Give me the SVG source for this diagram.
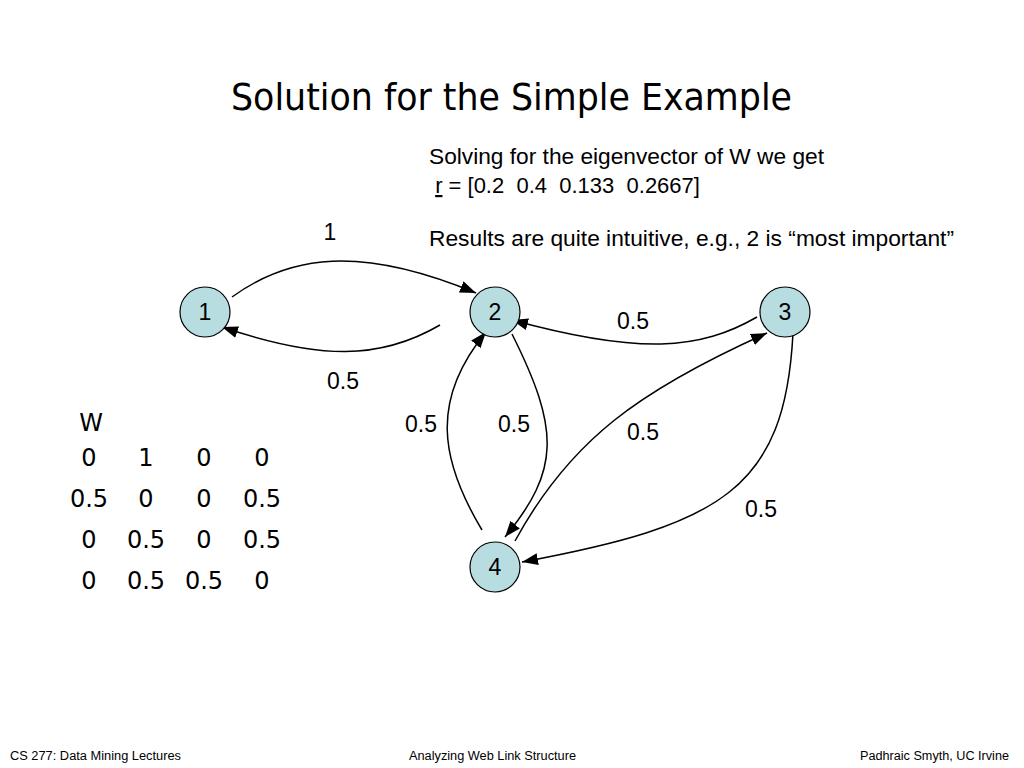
<svg xmlns="http://www.w3.org/2000/svg" width="1024" height="768" viewBox="0 0 1024 768">
<style>
.t{font-family:"Liberation Sans",Arial,sans-serif;fill:#000}
.node circle{fill:#b7dde0;stroke:#000;stroke-width:1.2}
.node text{font-family:"Liberation Sans",Arial,sans-serif;font-size:23px;text-anchor:middle}
.edge{fill:none;stroke:#000;stroke-width:1.5;marker-end:url(#ah)}
.lbl{font-family:"Liberation Sans",Arial,sans-serif;font-size:23px;text-anchor:middle}
.m{font-family:"DejaVu Sans",Verdana,sans-serif;font-size:24px;text-anchor:middle}
.f{font-family:"Liberation Sans",Arial,sans-serif;font-size:12px}
</style>
<defs>
<marker id="ah" markerUnits="userSpaceOnUse" markerWidth="18" markerHeight="14" refX="16" refY="6" orient="auto">
<path d="M0,0 L16,6 L0,12 Z" fill="#000"/>
</marker>
</defs>
<rect width="1024" height="768" fill="#fff"/>
<text x="231" y="110" font-family="'DejaVu Sans Condensed','DejaVu Sans',sans-serif" font-size="38" textLength="561" lengthAdjust="spacingAndGlyphs">Solution for the Simple Example</text>
<text class="t" x="429" y="164" font-size="22" textLength="395" lengthAdjust="spacingAndGlyphs">Solving for the eigenvector of W we get</text>
<text class="t" x="429" y="193" font-size="22" xml:space="preserve"> <tspan text-decoration="underline">r</tspan> = [0.2  0.4  0.133  0.2667]</text>
<text class="t" x="429" y="246" font-size="22" textLength="525" lengthAdjust="spacingAndGlyphs">Results are quite intuitive, e.g., 2 is “most important”</text>
<g id="connectors">
<path class="edge" d="M232,297 C290,255 360,245 476,293"/>
<path class="edge" d="M440,325 C380,360 320,360 222,327"/>
<path class="edge" d="M757,317 C700,350 640,355 512,320"/>
<path class="edge" d="M482,530 C440,460 430,400 486,332"/>
<path class="edge" d="M512,334 C560,430 560,470 505,537"/>
<path class="edge" d="M515,541 C570,440 640,390 767,333"/>
<path class="edge" d="M793,333 C785,490 720,525 522,562"/>
<text class="lbl" x="330" y="240">1</text>
<text class="lbl" x="343" y="389">0.5</text>
<text class="lbl" x="633" y="329">0.5</text>
<text class="lbl" x="421" y="432">0.5</text>
<text class="lbl" x="514" y="432">0.5</text>
<text class="lbl" x="643" y="440">0.5</text>
<text class="lbl" x="761" y="517">0.5</text>
</g>
<g id="node1" class="node"><circle cx="205" cy="312" r="25"/><text x="205" y="320">1</text></g>
<g id="node2" class="node"><circle cx="495" cy="312" r="25"/><text x="495" y="320">2</text></g>
<g id="node3" class="node"><circle cx="785" cy="312" r="25"/><text x="785" y="320">3</text></g>
<g id="node4" class="node"><circle cx="495" cy="567" r="25"/><text x="495" y="575">4</text></g>
<g id="matrix">
<text class="m" x="91" y="431">W</text>
<text class="m" x="89" y="466">0</text><text class="m" x="146" y="466">1</text><text class="m" x="204" y="466">0</text><text class="m" x="262" y="466">0</text>
<text class="m" x="89" y="507">0.5</text><text class="m" x="146" y="507">0</text><text class="m" x="204" y="507">0</text><text class="m" x="262" y="507">0.5</text>
<text class="m" x="89" y="548">0</text><text class="m" x="146" y="548">0.5</text><text class="m" x="204" y="548">0</text><text class="m" x="262" y="548">0.5</text>
<text class="m" x="89" y="589">0</text><text class="m" x="146" y="589">0.5</text><text class="m" x="204" y="589">0.5</text><text class="m" x="262" y="589">0</text>
</g>
<text class="f" x="10" y="760" textLength="171" lengthAdjust="spacingAndGlyphs">CS 277: Data Mining Lectures</text>
<text class="f" x="409" y="760" textLength="167" lengthAdjust="spacingAndGlyphs">Analyzing Web Link Structure</text>
<text class="f" x="860" y="760" textLength="149" lengthAdjust="spacingAndGlyphs">Padhraic Smyth, UC Irvine</text>
</svg>
